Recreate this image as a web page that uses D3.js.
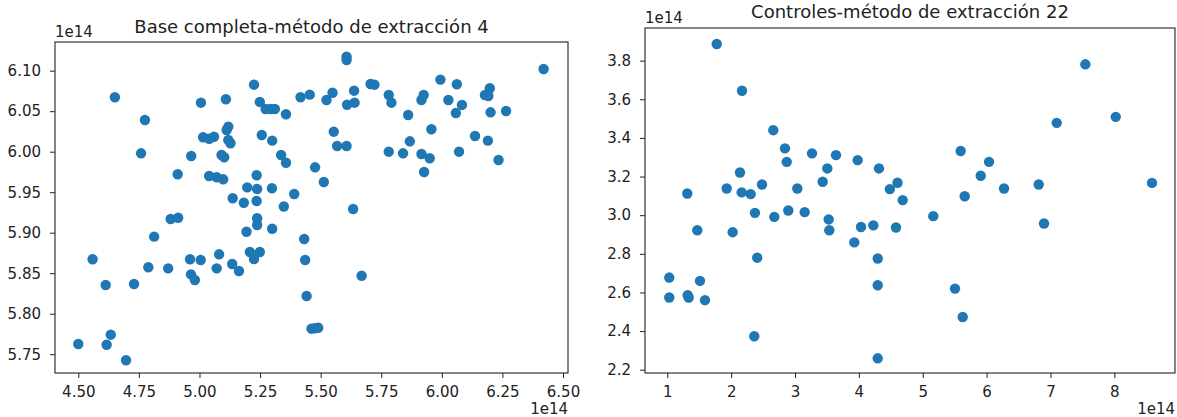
<!DOCTYPE html>
<html>
<head>
<meta charset="utf-8">
<script src="https://cdn.jsdelivr.net/npm/d3@7"></script>
<style>
    body { margin: 0; background: #fff; }
    text { font-family: "DejaVu Sans", sans-serif; fill: #222; }
    .tick text { font-size: 15px; }
    .tick line { stroke: #222; }
    .domain { display: none; }
</style>
</head>
<body>
<div class="scatter"></div>
<script>
// values are in units of 1e14
let baseX = [4.500, 4.559, 4.613, 4.617, 4.634, 4.651, 4.697, 4.730, 4.759, 4.775,
    4.789, 4.813, 4.871, 4.881, 4.912, 4.910, 4.961, 4.965, 4.981, 4.966,
    5.005, 5.006, 5.015, 5.040, 5.060, 5.040, 5.071, 5.098, 5.071, 5.081,
    5.091, 5.102, 5.109, 5.119, 5.112, 5.119, 5.128, 5.137, 5.135, 5.163,
    5.183, 5.194, 5.197, 5.208, 5.225, 5.249, 5.225, 5.236, 5.236, 5.238,
    5.238, 5.238, 5.249, 5.257, 5.273, 5.293, 5.311, 5.300, 5.299, 5.300,
    5.337, 5.357, 5.357, 5.348, 5.391, 5.417, 5.432, 5.436, 5.442, 5.455,
    5.462, 5.476, 5.490, 5.477, 5.513, 5.524, 5.549, 5.554, 5.568, 5.607,
    5.607, 5.607, 5.609, 5.638, 5.640, 5.634, 5.669, 5.706, 5.722, 5.781,
    5.792, 5.781, 5.840, 5.861, 5.868, 5.916, 5.925, 5.916, 5.950, 5.927,
    5.957, 5.994, 6.027, 6.062, 6.058, 6.083, 6.071, 6.137, 6.178, 6.192,
    6.198, 6.190, 6.201, 6.234, 6.265, 6.420];
let baseY = [5.7626, 5.8672, 5.8354, 5.7617, 5.7741, 6.0672, 5.7425, 5.8367, 5.9980, 6.0391,
    5.8573, 5.8951, 5.8560, 5.9169, 5.9185, 5.9721, 5.8672, 5.8486, 5.8416, 5.9947,
    5.8663, 6.0605, 6.0178, 6.0160, 6.0185, 5.9700, 5.9684, 5.9659, 5.8560, 5.8733,
    5.9959, 5.9931, 6.0647, 6.0309, 6.0268, 6.0144, 6.0104, 5.9425, 5.8614, 5.8527,
    5.9370, 5.9012, 5.9560, 5.8762, 5.8675, 5.8762, 6.0827, 5.9709, 5.9391, 5.9540,
    5.9178, 5.9095, 6.0614, 6.0206, 6.0527, 6.0527, 6.0527, 6.0136, 5.9548, 5.9049,
    5.9959, 5.9864, 6.0462, 5.9323, 5.9478, 6.0672, 5.8922, 5.8663, 5.8219, 6.0704,
    5.7815, 5.7820, 5.7827, 5.9807, 5.9626, 6.0638, 6.0728, 6.0247, 6.0070, 6.0070,
    6.1173, 6.1132, 6.0580, 6.0753, 6.0605, 5.9293, 5.8469, 6.0836, 6.0827, 6.0700,
    6.0605, 6.0000, 5.9980, 6.0453, 6.0128, 6.0638, 6.0700, 5.9972, 5.9919, 5.9749,
    6.0277, 6.0889, 6.0638, 6.0832, 6.0478, 6.0577, 6.0000, 6.0194, 6.0700, 6.0688,
    6.0783, 6.0136, 6.0486, 5.9898, 6.0502, 6.1021];

let ctrlX = [1.031, 1.031, 1.313, 1.319, 1.335, 1.470, 1.512, 1.590, 1.774, 1.930,
    2.024, 2.138, 2.165, 2.170, 2.306, 2.362, 2.373, 2.408, 2.483, 2.660,
    2.676, 2.843, 2.870, 2.895, 3.036, 3.151, 3.266, 3.433, 3.506, 3.527,
    3.537, 3.642, 3.928, 3.981, 4.033, 4.226, 4.295, 4.295, 4.295, 4.315,
    4.485, 4.581, 4.605, 4.686, 5.165, 5.505, 5.594, 5.626, 5.657, 5.908,
    6.038, 6.273, 6.816, 6.899, 7.098, 7.546, 8.022, 8.590];
let ctrlY = [2.677, 2.574, 3.112, 2.586, 2.574, 2.922, 2.660, 2.560, 3.886, 3.138,
    2.912, 3.221, 3.118, 3.644, 3.109, 2.373, 3.012, 2.780, 3.159, 3.440,
    2.991, 3.346, 3.276, 3.024, 3.138, 3.016, 3.320, 3.173, 3.242, 2.978,
    2.922, 3.311, 2.859, 3.285, 2.939, 2.947, 2.776, 2.637, 2.259, 3.242,
    3.135, 2.936, 3.168, 3.078, 2.995, 2.620, 3.332, 2.473, 3.098, 3.204,
    3.276, 3.138, 3.159, 2.957, 3.478, 3.781, 3.509, 3.167];

let baseXTicks = [4.50, 4.75, 5.00, 5.25, 5.50, 5.75, 6.00, 6.25, 6.50];
let baseYTicks = [5.75, 5.80, 5.85, 5.90, 5.95, 6.00, 6.05, 6.10];
let ctrlXTicks = [1, 2, 3, 4, 5, 6, 7, 8];
let ctrlYTicks = [2.2, 2.4, 2.6, 2.8, 3.0, 3.2, 3.4, 3.6, 3.8];

let svgWidth = 1177;
let svgHeight = 417;

let svg = d3.select(".scatter")
    .append("svg")
    .attr("width", svgWidth)
    .attr("height", svgHeight);

function drawPanel(p) {
    let xScale = d3.scaleLinear().domain(p.xDomain).range([p.left, p.right]);
    let yScale = d3.scaleLinear().domain(p.yDomain).range([p.bottom, p.top]);
    let g = svg.append("g");

    g.append("g")
        .attr("transform", `translate(0, ${p.bottom})`)
        .call(d3.axisBottom(xScale).tickValues(p.xTicks).tickFormat(d3.format(p.xFmt))
            .tickSizeInner(5).tickSizeOuter(0).tickPadding(8));
    g.append("g")
        .attr("transform", `translate(${p.left}, 0)`)
        .call(d3.axisLeft(yScale).tickValues(p.yTicks).tickFormat(d3.format(p.yFmt))
            .tickSizeInner(5).tickSizeOuter(0).tickPadding(9));

    g.selectAll("circle")
        .data(p.xs.map((x, i) => [x, p.ys[i]]))
        .enter()
        .append("circle")
        .attr("cx", d => xScale(d[0]))
        .attr("cy", d => yScale(d[1]))
        .attr("r", 5.2)
        .attr("fill", "#1f77b4");

    g.append("rect")
        .attr("x", p.left)
        .attr("y", p.top)
        .attr("width", p.right - p.left)
        .attr("height", p.bottom - p.top)
        .attr("fill", "none")
        .attr("stroke", "#222")
        .attr("stroke-width", 1.1);

    g.append("text")
        .attr("x", (p.left + p.right) / 2)
        .attr("y", p.titleY)
        .attr("text-anchor", "middle")
        .style("font-size", "18px")
        .text(p.title);
    g.append("text")
        .attr("x", p.left)
        .attr("y", p.top - 5)
        .style("font-size", "15px")
        .text("1e14");
    g.append("text")
        .attr("x", p.right)
        .attr("y", 414)
        .attr("text-anchor", "end")
        .style("font-size", "15px")
        .text("1e14");
}

drawPanel({
    xs: baseX, ys: baseY,
    xTicks: baseXTicks, yTicks: baseYTicks, xFmt: ".2f", yFmt: ".2f",
    xDomain: [4.4039, 6.5206], yDomain: [5.7268, 6.1354],
    left: 55, right: 568, top: 42, bottom: 373,
    title: "Base completa-método de extracción 4", titleY: 33
});
drawPanel({
    xs: ctrlX, ys: ctrlY,
    xTicks: ctrlXTicks, yTicks: ctrlYTicks, xFmt: "d", yFmt: ".1f",
    xDomain: [0.651, 8.95], yDomain: [2.183, 3.969],
    left: 645, right: 1175, top: 28, bottom: 373,
    title: "Controles-método de extracción 22", titleY: 18
});
</script>
</body>
</html>
